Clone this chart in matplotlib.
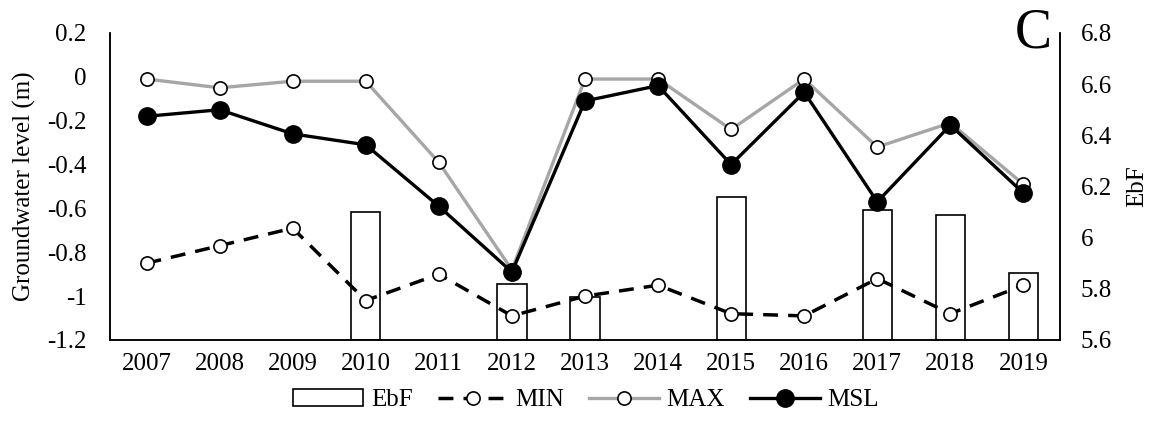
import numpy as np
import matplotlib
matplotlib.use("Agg")
import matplotlib.pyplot as plt

plt.rcParams['font.family'] = ['Liberation Serif', 'DejaVu Serif']

years = ['2007', '2008', '2009', '2010', '2011', '2012', '2013',
         '2014', '2015', '2016', '2017', '2018', '2019']
ebf = [np.nan, np.nan, np.nan, 6.10, np.nan, 5.82, 5.77,
       np.nan, 6.16, np.nan, 6.11, 6.09, 5.86]
gw_min = [-0.85, -0.77, -0.69, -1.02, -0.90, -1.09, -1.00,
          -0.95, -1.08, -1.09, -0.92, -1.08, -0.95]
gw_max = [-0.01, -0.05, -0.02, -0.02, -0.39, -0.88, -0.01,
          -0.01, -0.24, -0.01, -0.32, -0.21, -0.49]
gw_msl = [-0.18, -0.15, -0.26, -0.31, -0.59, -0.89, -0.11,
          -0.04, -0.40, -0.07, -0.57, -0.22, -0.53]

left_ticks = [0.2, 0, -0.2, -0.4, -0.6, -0.8, -1, -1.2]
right_ticks = [6.8, 6.6, 6.4, 6.2, 6, 5.8, 5.6]

fs = 18
fig = plt.figure(figsize=(11.53, 4.25), dpi=100)
ax = fig.add_axes([0.0954, 0.2, 0.9193 - 0.0954, 0.7224])
ax2 = ax.twinx()

x = np.arange(len(years))
base = 5.6
ebf_arr = np.array(ebf)
ax2.bar(x, ebf_arr - base, bottom=base, width=0.4, facecolor='white',
        edgecolor='black', linewidth=1.2, label='EbF')

# groundwater lines drawn above the EbF bars
ax.set_zorder(ax2.get_zorder() + 1)
ax.patch.set_visible(False)

ax.plot(x, gw_min, color='black', lw=2.5, linestyle=(0, (4.3, 2.9)),
        marker='o', ms=9.5, mfc='white', mec='black', mew=1.2, label='MIN')
ax.plot(x, gw_max, color='#A6A6A6', lw=2.4, marker='o', ms=9.5,
        mfc='white', mec='black', mew=1.2, label='MAX')
ax.plot(x, gw_msl, color='black', lw=2.4, marker='o', ms=12.5,
        mfc='black', mec='black', label='MSL')

ax.set_xlim(-0.5, len(years) - 0.5)
ax.set_ylim(-1.2, 0.2)
ax2.set_ylim(5.6, 6.8)
ax.set_xticks(x)
ax.set_xticklabels(years)
ax.set_yticks(left_ticks)
ax.set_yticklabels(['0.2', '0', '-0.2', '-0.4', '-0.6', '-0.8', '-1', '-1.2'])
ax2.set_yticks(right_ticks)
ax2.set_yticklabels(['6.8', '6.6', '6.4', '6.2', '6', '5.8', '5.6'])

ax.tick_params(axis='y', length=0, pad=17, labelsize=fs)
ax.tick_params(axis='x', length=0, pad=9, labelsize=fs)
ax2.tick_params(axis='y', length=0, pad=15, labelsize=fs)

for a in (ax, ax2):
    a.spines['top'].set_visible(False)
    for s in ('left', 'right', 'bottom'):
        a.spines[s].set_linewidth(1.1)
        a.spines[s].set_color('black')

ax.set_ylabel('Groundwater level (m)', fontsize=fs, labelpad=8)
ax2.set_ylabel('EbF', fontsize=fs, labelpad=10)

fig.text(1052 / 1153, 1 - 47 / 425, 'C', fontsize=40, ha='right', va='baseline')

h1, l1 = ax2.get_legend_handles_labels()
h2, l2 = ax.get_legend_handles_labels()
fig.legend(h1 + h2, l1 + l2, loc='center', bbox_to_anchor=(586 / 1153, 1 - 400 / 425),
           ncol=4, frameon=False, fontsize=fs, handlelength=2.8,
           handletextpad=0.3, columnspacing=1.0, borderpad=0)

fig.savefig('out.png', dpi=100)
